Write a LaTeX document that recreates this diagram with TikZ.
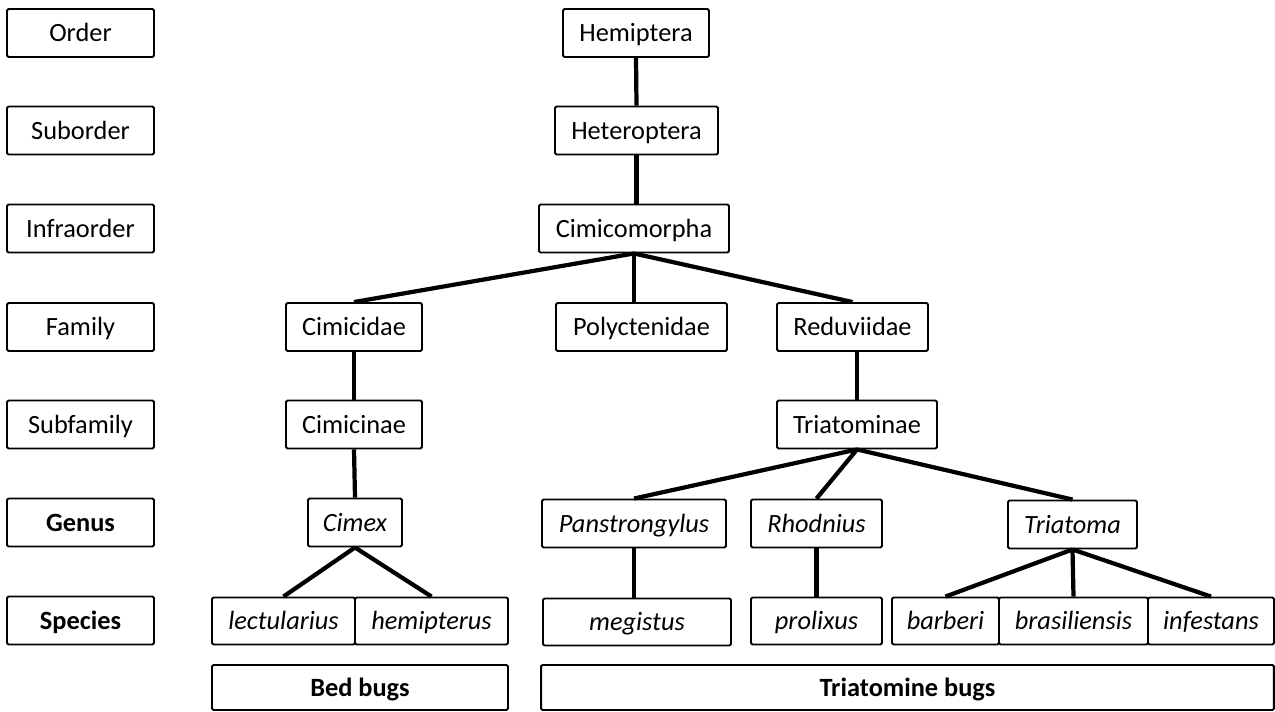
\documentclass[tikz,border=0pt]{standalone}
\usepackage{fontspec}
\setmainfont{Carlito}
\usetikzlibrary{calc}
\newcommand\taxfont[0]{\fontsize{15}{18}\selectfont}

\tikzset{
  taxon/.style={draw,line width=1.1pt,rounded corners=0.8pt,inner sep=0pt,text height=10pt,text depth=0.3pt,minimum height=0.96cm,font=\taxfont},
  species/.style={taxon,minimum height=0.94cm,font=\taxfont\itshape},
  group/.style={taxon,minimum height=0.9cm,font=\taxfont\bfseries},
  link/.style={black,line width=2.4pt},
}

\begin{document}
\begin{tikzpicture} [x=0.02cm,y=-0.02cm]
\useasboundingbox (0,0) rectangle (1275,711);

% rank column
\node[taxon,minimum width=2.94cm] (order) at (80.5,33) {Order};
\node[taxon,minimum width=2.94cm] (suborder) at (80.5,130.5) {Suborder};
\node[taxon,minimum width=2.94cm] (infraorder) at (80.5,228.5) {Infraorder};
\node[taxon,minimum width=2.94cm] (family) at (80.5,327) {Family};
\node[taxon,minimum width=2.94cm] (subfamily) at (80.5,424.5) {Subfamily};
\node[taxon,minimum width=2.94cm] (genus) at (80.5,522.5) {\bfseries Genus};
\node[taxon,minimum width=2.94cm] (species) at (80.5,620.5) {\bfseries Species};

% tree
\node[taxon,minimum width=2.92cm] (hemiptera) at (636,33) {Hemiptera};
\node[taxon,minimum width=3.26cm] (heteroptera) at (636.5,130.5) {Heteroptera};
\node[taxon,minimum width=3.80cm] (cimicomorpha) at (634,228.5) {Cimicomorpha};

\node[taxon,minimum width=2.72cm] (cimicidae) at (354,327) {Cimicidae};
\node[taxon,minimum width=3.42cm] (polyctenidae) at (641.5,327) {Polyctenidae};
\node[taxon,minimum width=3.02cm] (reduviidae) at (852.5,327) {Reduviidae};

\node[taxon,minimum width=2.72cm] (cimicinae) at (354,424.5) {Cimicinae};
\node[taxon,minimum width=3.20cm] (triatominae) at (857,424.5) {Triatominae};

\node[taxon,minimum width=1.88cm,font=\taxfont\itshape] (cimex) at (355,522.5) {Cimex};
\node[taxon,minimum width=3.68cm,font=\taxfont\itshape] (panstrongylus) at (634,523.5) {Panstrongylus};
\node[taxon,minimum width=2.62cm,font=\taxfont\itshape] (rhodnius) at (816.5,523.5) {Rhodnius};
\node[taxon,minimum width=2.58cm,font=\taxfont\itshape] (triatoma) at (1072.5,524.5) {Triatoma};

\node[species,minimum width=2.86cm] (lectularius) at (283.5,621) {lectularius};
\node[species,minimum width=3.06cm] (hemipterus) at (431.5,621) {hemipterus};
\node[species,minimum width=3.76cm] (megistus) at (637,622) {megistus};
\node[species,minimum width=2.62cm] (prolixus) at (816.5,621) {prolixus};
\node[species,minimum width=2.14cm] (barberi) at (945.5,621) {barberi};
\node[species,minimum width=2.98cm] (brasiliensis) at (1073.5,621) {brasiliensis};
\node[species,minimum width=2.52cm] (infestans) at (1211,621) {infestans};

\node[group,minimum width=5.92cm] (bedbugs) at (360,687.5) {Bed bugs};
\node[group,minimum width=14.66cm] (triatomine) at (907.5,687.5) {Triatomine bugs};

% connectors
\draw[link] (hemiptera.south)--(heteroptera.north);
\draw[link] (heteroptera.south)--(heteroptera.south |- cimicomorpha.north);
\draw[link] (cimicomorpha.south)--(cimicidae.north);
\draw[link] (cimicomorpha.south)--(cimicomorpha.south |- polyctenidae.north);
\draw[link] (cimicomorpha.south)--(reduviidae.north);
\draw[link] (cimicidae.south)--(cimicinae.north);
\draw[link] (cimicinae.south)--(cimex.north);
\draw[link] (cimex.south)--(lectularius.north);
\draw[link] (cimex.south)--(hemipterus.north);
\draw[link] (triatominae.north)--(triatominae.north |- reduviidae.south);
\draw[link] (triatominae.south)--(panstrongylus.north);
\draw[link] (triatominae.south)--(rhodnius.north);
\draw[link] (triatominae.south)--(triatoma.north);
\draw[link] (panstrongylus.south)--(panstrongylus.south |- megistus.north);
\draw[link] (rhodnius.south)--(prolixus.north);
\draw[link] (triatoma.south)--(barberi.north);
\draw[link] (triatoma.south)--(brasiliensis.north);
\draw[link] (triatoma.south)--(infestans.north);

\end{tikzpicture}
\end{document}
